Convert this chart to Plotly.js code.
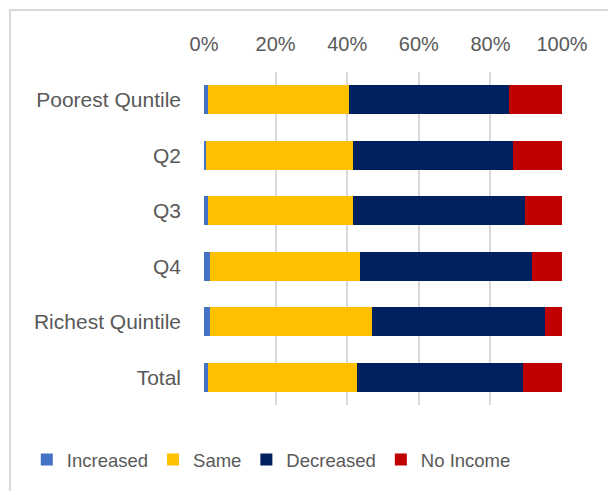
<!DOCTYPE html>
<html>
<head>
<meta charset="utf-8">
<script src="https://cdn.plot.ly/plotly-3.0.1.min.js"></script>
<style>
  html, body { margin: 0; padding: 0; background: #fff; }
  #wrap { position: relative; width: 608px; height: 491px; overflow: hidden; }
  #chart { width: 608px; height: 491px; }
  #frame { position: absolute; left: 9px; top: 9px; width: 640px; height: 520px;
           border: 2px solid #d9d9d9; box-sizing: border-box; pointer-events: none; }
</style>
</head>
<body>
<div id="wrap">
  <div id="chart"></div>
  <div id="frame"></div>
</div>
<script>
const categories = ["Poorest Quntile", "Q2", "Q3", "Q4", "Richest Quintile", "Total"];
const increased = [1.0, 0.5, 1.0, 1.7, 1.7, 1.0];
const same      = [39.5, 41.2, 40.7, 41.8, 45.3, 41.8];
const decreased = [44.6, 44.7, 48.1, 48.2, 48.3, 46.4];
const noIncome  = [14.9, 13.6, 10.2, 8.3, 4.7, 10.8];
const seriesNames = ["Increased", "Same", "Decreased", "No Income"];
const tickVals = [0, 20, 40, 60, 80, 100];
const tickText = ["0%", "20%", "40%", "60%", "80%", "100%"];

const colors = ["#4472C4", "#FFC000", "#002060", "#C00000"];
const values = [increased, same, decreased, noIncome];

const traces = values.map((v, i) => ({
  type: "bar",
  orientation: "h",
  name: seriesNames[i],
  y: categories,
  x: v,
  marker: { color: colors[i], line: { width: 0 } },
  hoverinfo: "x+name"
}));

const fam = "Liberation Sans, Arial, sans-serif";
const col = "#595959";

const layout = {
  width: 608, height: 491,
  margin: { l: 204, r: 46, t: 72, b: 83 },
  barmode: "stack",
  bargap: 0.48,
  paper_bgcolor: "#fff",
  plot_bgcolor: "#fff",
  font: { family: fam, size: 20, color: col },
  showlegend: true,
  legend: {
    orientation: "h",
    traceorder: "normal",
    xref: "paper", yref: "paper",
    x: -0.495, xanchor: "left",
    y: -0.165, yanchor: "middle",
    font: { family: fam, size: 18.5, color: col },
    itemwidth: 30,
    tracegroupgap: 0
  },
  xaxis: {
    side: "top",
    range: [0, 100],
    tickvals: tickVals,
    ticktext: tickText,
    tickfont: { family: fam, size: 20, color: col },
    showgrid: true,
    gridcolor: "#d9d9d9",
    gridwidth: 2,
    zeroline: false,
    showline: false,
    ticks: "",
    ticklabelstandoff: 16,
    fixedrange: true
  },
  yaxis: {
    autorange: "reversed",
    type: "category",
    tickfont: { family: fam, size: 21, color: col },
    showgrid: false,
    zeroline: false,
    showline: false,
    ticks: "",
    ticklabelstandoff: 22,
    fixedrange: true
  }
};

Plotly.newPlot("chart", traces, layout, { displayModeBar: false, staticPlot: true });
</script>
</body>
</html>
